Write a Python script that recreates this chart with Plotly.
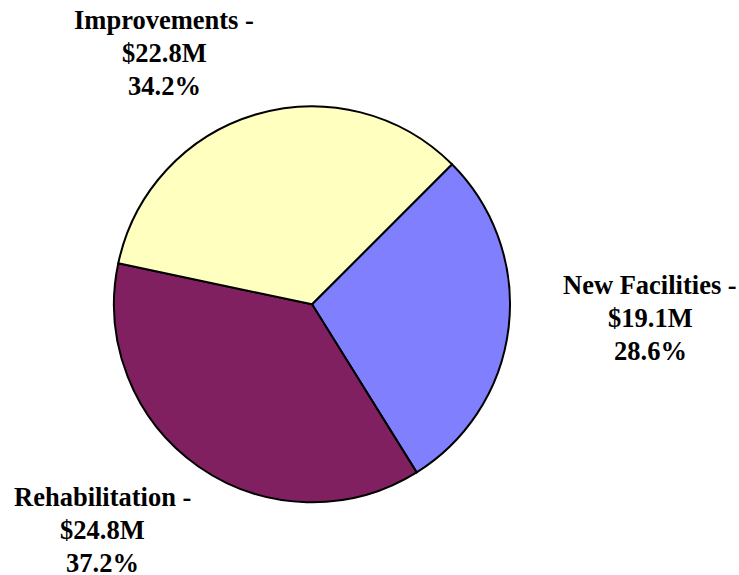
import plotly.graph_objects as go

categories = ["New Facilities", "Rehabilitation", "Improvements"]
amounts_musd = [19.1, 24.8, 22.8]
percents = [28.6, 37.2, 34.2]
colors = ["#8080FF", "#802060", "#FFFFC0"]

W, H = 739, 575
cx, cy, r = 312, 304.3, 198

fig = go.Figure(go.Pie(
    labels=categories,
    values=amounts_musd,
    sort=False,
    direction="clockwise",
    rotation=45,
    marker=dict(colors=colors, line=dict(color="black", width=2)),
    textinfo="none",
    hoverinfo="label+value+percent",
    showlegend=False,
    domain=dict(x=[(cx - r) / W, (cx + r) / W],
                y=[(H - cy - r) / H, (H - cy + r) / H]),
))

# label placement (pixel centers / first baseline)
label_pos = {"New Facilities": (650, 294), "Rehabilitation": (102, 506), "Improvements": (164, 29)}
line_gap = 33
fs = 26.5
annotations = []
for cat, amt, pct in zip(categories, amounts_musd, percents):
    x, b = label_pos[cat]
    lines = [f"{cat} -", f"${amt:.1f}M", f"{pct:.1f}%"]
    for i, t in enumerate(lines):
        base = b + i * line_gap
        annotations.append(dict(
            x=x / W, y=1 - (base - 0.33 * fs) / H, xref="paper", yref="paper",
            text=f"<b>{t}</b>", showarrow=False, xanchor="center", yanchor="middle",
            font=dict(family="Liberation Serif, Times New Roman, serif", size=fs, color="black"),
        ))

fig.update_layout(
    width=W, height=H,
    margin=dict(l=0, r=0, t=0, b=0),
    paper_bgcolor="white", plot_bgcolor="white",
    annotations=annotations,
)

fig.write_html("out.html")
